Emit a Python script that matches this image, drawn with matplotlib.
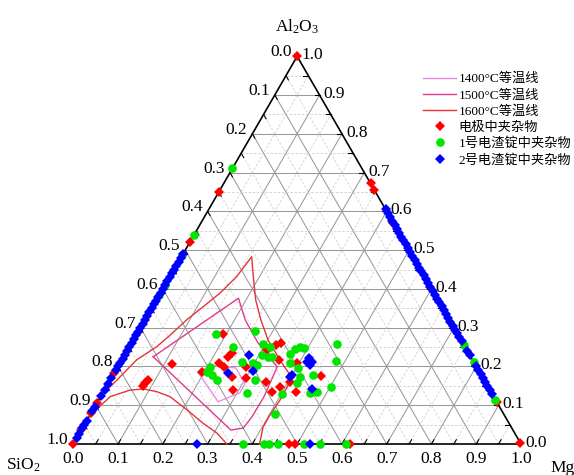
import numpy as np
import matplotlib.pyplot as plt

plt.rcParams['font.family'] = ['Liberation Serif', 'Noto Sans CJK SC']
plt.rcParams['mathtext.fontset'] = 'custom'
plt.rcParams['mathtext.rm'] = 'Liberation Serif'
plt.rcParams['mathtext.it'] = 'Liberation Serif:italic'

# compositions as mass fractions (Al2O3, MgO); SiO2 = 1 - Al2O3 - MgO
# 电极中夹杂物
red_al = [0.284, 0.185, 0.208, 0.199, 0.225, 0.234, 0.174, 0.139, 0.169, 0.199,
          0.242, 0.255, 0.260, 0.217, 0.159, 0.135, 0.148, 0.135, 0.208, 0.161,
          0.176, 0.206, 0.157, 0.165, 0.150]
red_mgo = [0.192, 0.194, 0.222, 0.237, 0.234, 0.237, 0.267, 0.288, 0.302, 0.287,
           0.311, 0.326, 0.335, 0.352, 0.352, 0.376, 0.388, 0.430, 0.395, 0.404,
           0.465, 0.117, 0.081, 0.085, 0.081]
red_sio2_al2o3 = [0.651, 0.522, 0.182, 0.105, 0.079, 0.035, 0.0]   # MgO = 0
red_mgo_al2o3 = [1.0, 0.672, 0.655, 0.57, 0.109, 0.003]            # SiO2 = 0
red_sio2_mgo = [0.482, 0.495, 0.618]                               # Al2O3 = 0

# 1号电渣锭中夹杂物
green_al = [0.284, 0.251, 0.292, 0.199, 0.178, 0.165, 0.212, 0.208, 0.204, 0.165,
            0.132, 0.258, 0.251, 0.230, 0.225, 0.225, 0.232, 0.244, 0.251, 0.247,
            0.208, 0.195, 0.174, 0.157, 0.178, 0.131, 0.135, 0.148, 0.258, 0.215,
            0.129, 0.077, 0.186]
green_mgo = [0.177, 0.232, 0.260, 0.206, 0.220, 0.238, 0.270, 0.298, 0.308, 0.324,
             0.321, 0.295, 0.313, 0.306, 0.323, 0.331, 0.368, 0.373, 0.381, 0.391,
             0.380, 0.405, 0.419, 0.421, 0.447, 0.464, 0.477, 0.501, 0.461, 0.480,
             0.401, 0.412, 0.206]
green_sio2_al2o3 = [0.711, 0.539, 0.487, 0.41, 0.384]
green_mgo_al2o3 = [0.255, 0.212, 0.114]
green_sio2_mgo = [0.380, 0.425, 0.437, 0.457, 0.515, 0.552, 0.609]

# 2号电渣锭中夹杂物
blue_al = [0.230, 0.184, 0.187, 0.174, 0.178, 0.221, 0.204, 0.141, 0.212, 0.212]
blue_mgo = [0.278, 0.254, 0.309, 0.396, 0.399, 0.415, 0.427, 0.462, 0.416, 0.427]
blue_sio2_al2o3 = [0.49, 0.48, 0.47, 0.46, 0.45, 0.44, 0.43, 0.42, 0.41, 0.40,
                   0.39, 0.38, 0.37, 0.36, 0.35, 0.34, 0.33, 0.32, 0.31, 0.30,
                   0.29, 0.28, 0.27, 0.26, 0.25, 0.24, 0.23, 0.22, 0.21, 0.20,
                   0.19, 0.17, 0.155, 0.14, 0.125, 0.095, 0.085, 0.06, 0.05,
                   0.04, 0.025, 0.015]
blue_mgo_al2o3 = [0.605, 0.595, 0.585, 0.575, 0.565, 0.555, 0.545, 0.535, 0.525,
                  0.515, 0.505, 0.495, 0.485, 0.475, 0.465, 0.455, 0.445, 0.435,
                  0.425, 0.415, 0.405, 0.395, 0.385, 0.375, 0.365, 0.355, 0.345,
                  0.335, 0.325, 0.315, 0.305, 0.295, 0.285, 0.275, 0.265, 0.24,
                  0.23, 0.20, 0.19, 0.18, 0.17, 0.16, 0.15, 0.14, 0.13]
blue_sio2_mgo = [0.276, 0.528]

# isotherms (Al2O3, MgO)
iso1400_al = [0.184, 0.204, 0.196, 0.155, 0.132, 0.109, 0.184]
iso1400_mgo = [0.187, 0.206, 0.265, 0.306, 0.306, 0.269, 0.187]
iso1500_al = [0.225, 0.376, 0.320, 0.261, 0.199, 0.121, 0.070, 0.041, 0.036, 0.225]
iso1500_mgo = [0.066, 0.181, 0.224, 0.282, 0.356, 0.365, 0.364, 0.359, 0.334, 0.066]
iso1600a_al = [0.126, 0.165, 0.217, 0.251, 0.281, 0.320, 0.354, 0.389, 0.432, 0.483,
               0.432, 0.371, 0.320, 0.268, 0.217, 0.178, 0.152, 0.114, 0.075, 0.044, 0.0]
iso1600a_mgo = [0.0, 0.015, 0.033, 0.061, 0.076, 0.093, 0.113, 0.133, 0.149, 0.157,
                0.186, 0.222, 0.259, 0.301, 0.353, 0.395, 0.404, 0.405, 0.402, 0.402, 0.416]
iso1600b_al = [0.070, 0.122, 0.139, 0.142, 0.135, 0.122, 0.088, 0.053, 0.028, 0.0]
iso1600b_mgo = [0.0, 0.021, 0.057, 0.086, 0.119, 0.155, 0.210, 0.264, 0.307, 0.343]

ticks = [0.0, 0.1, 0.2, 0.3, 0.4, 0.5, 0.6, 0.7, 0.8, 0.9, 1.0]

c1400 = '#ea8ae4'
c1500 = '#e03a8c'
c1600 = '#e5333b'
h = np.sqrt(3) / 2


def xy(al, mg):
    al = np.asarray(al, dtype=float)
    mg = np.asarray(mg, dtype=float)
    return mg + al / 2, al * h


fig = plt.figure(figsize=(5.74, 4.75), dpi=100)
ax = fig.add_axes([0, 0, 1, 1])
ax.set_xlim(-73.3 / 447.7, (574 - 73.3) / 447.7)
ax.set_ylim(-31 / 447.7, 444 / 447.7)
ax.axis('off')

# grid
for k in range(1, 20):
    v = k / 20
    if k % 2 == 0:
        sty = dict(color='#999999', lw=0.75, ls='-')
    else:
        sty = dict(color='#cfcfcf', lw=0.6, ls=(0, (3, 2)))
    ax.plot(*xy([v, v], [0, 1 - v]), zorder=1, **sty)        # const Al2O3
    ax.plot(*xy([0, 1 - v], [v, v]), zorder=1, **sty)        # const MgO
    ax.plot(*xy([0, 1 - v], [1 - v, 0]), zorder=1, **sty)    # const SiO2
    # small ticks
    t = 0.011
    x0, y0 = xy(0, v)
    ax.plot([x0, x0 + t * 0.5], [y0, y0 + t * h], color='k', lw=0.8, zorder=2)
    x0, y0 = xy(1 - v, 0)
    ax.plot([x0, x0 + t * 0.5], [y0, y0 - t * h], color='k', lw=0.8, zorder=2)
    x0, y0 = xy(v, 1 - v)
    ax.plot([x0, x0 - t], [y0, y0], color='k', lw=0.8, zorder=2)

ax.plot([0, 1, 0.5, 0], [0, 0, h, 0], color='k', lw=1.2, zorder=3)

# isotherms
ax.plot(*xy(iso1400_al, iso1400_mgo), color=c1400, lw=1.0, zorder=4, label='1400°C等温线')
ax.plot(*xy(iso1500_al, iso1500_mgo), color=c1500, lw=1.0, zorder=4, label='1500°C等温线')
ax.plot(*xy(iso1600a_al, iso1600a_mgo), color=c1600, lw=1.0, zorder=4, label='1600°C等温线')
ax.plot(*xy(iso1600b_al, iso1600b_mgo), color=c1600, lw=1.0, zorder=4)


def series(al, mg, left, right, bottom):
    a = list(al) + list(left) + list(right) + [0.0] * len(bottom)
    m = list(mg) + [0.0] * len(left) + [1 - v for v in right] + list(bottom)
    return xy(a, m)


rx, ry = series(red_al, red_mgo, red_sio2_al2o3, red_mgo_al2o3, red_sio2_mgo)
gx, gy = series(green_al, green_mgo, green_sio2_al2o3, green_mgo_al2o3, green_sio2_mgo)
bx, by = series(blue_al, blue_mgo, blue_sio2_al2o3, blue_mgo_al2o3, blue_sio2_mgo)
ax.plot(rx, ry, 'D', color='#ff0000', ms=4.7, mew=0, zorder=5, label='电极中夹杂物')
ax.plot(gx, gy, 'o', color='#00e600', ms=6.2, mew=0, zorder=6, label='1号电渣锭中夹杂物')
ax.plot(bx, by, 'D', color='#0000ff', ms=4.7, mew=0, zorder=7, label='2号电渣锭中夹杂物')

# tick labels
for v in ticks:
    lab = '%.1f' % v
    ax.annotate(lab, xy(0, v), xytext=(0, -7), textcoords='offset pixels',
                ha='center', va='top', fontsize=12.5)
    ax.annotate(lab, xy(1 - v, 0), xytext=(-5, 4), textcoords='offset pixels',
                ha='right', va='center', fontsize=12.5)
    ax.annotate(lab, xy(v, 1 - v), xytext=(4, 1), textcoords='offset pixels',
                ha='left', va='center', fontsize=12.5)

ax.text(0.5, 0.9314, r'Al$_2$O$_3$', ha='center', va='center', fontsize=12.5)
ax.text(-0.1123, -0.047, r'SiO$_2$', ha='center', va='center', fontsize=12.5)
ax.text(1.065, -0.0536, 'MgO', ha='left', va='center', fontsize=12.5)

ax.legend(loc='upper left', bbox_to_anchor=(0.737, 0.847), frameon=False,
          fontsize=9.5, borderpad=0, borderaxespad=0, labelspacing=0.28,
          handlelength=2.5, handletextpad=0.2)

fig.savefig('out.png', dpi=100)
